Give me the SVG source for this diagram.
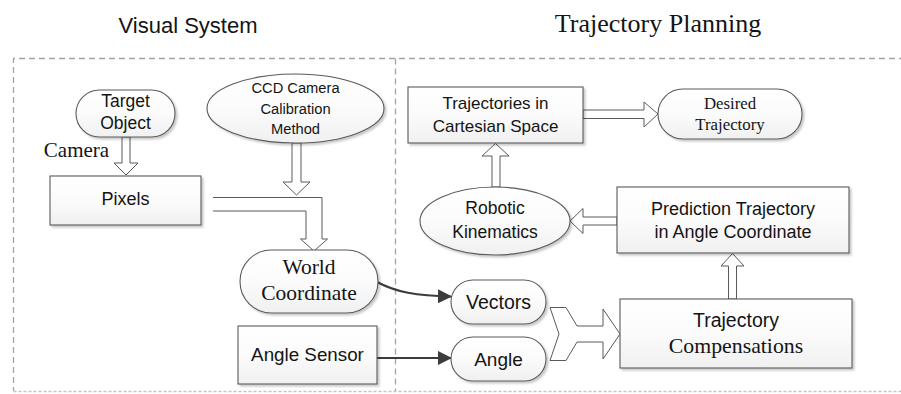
<svg xmlns="http://www.w3.org/2000/svg" width="901" height="394" viewBox="0 0 901 394">
  <defs>
    <linearGradient id="boxFill" x1="0" y1="0" x2="0" y2="1">
      <stop offset="0" stop-color="#ffffff"/>
      <stop offset="0.5" stop-color="#fbfbfb"/>
      <stop offset="1" stop-color="#f0f0f0"/>
    </linearGradient>
    <filter id="shadow" x="-10%" y="-10%" width="125%" height="130%">
      <feDropShadow dx="2" dy="2" stdDeviation="1.2" flood-color="#000" flood-opacity="0.22"/>
    </filter>
    <marker id="head" markerWidth="14" markerHeight="14" viewBox="0 0 14 14" refX="13" refY="7" orient="auto" markerUnits="userSpaceOnUse">
      <path d="M0,0 L14,7 L0,14 Z" fill="#3c3c3c"/>
    </marker>
  </defs>
  <style>
    .frame { fill: none; stroke: #a3a3a3; stroke-width: 1.3; stroke-dasharray: 6 4; }
    .frame-bottom { fill: none; stroke: #c4c4c4; stroke-width: 1.3; stroke-dasharray: 3 2; }
    .node { fill: url(#boxFill); stroke: #5a5a5a; stroke-width: 1.1; filter: url(#shadow); }
    .hollow { fill: #ffffff; stroke: #5a5a5a; stroke-width: 1; stroke-linejoin: miter; }
    .wire { fill: none; stroke: #3c3c3c; stroke-width: 2; marker-end: url(#head); }
    .sans { font-family: "Liberation Sans", Arial, sans-serif; fill: #141414; text-anchor: middle; }
    .serif { font-family: "Liberation Serif", "Times New Roman", serif; fill: #141414; text-anchor: middle; }
  </style>

  <rect width="901" height="394" fill="#ffffff"/>

  <!-- section titles -->
  <text class="sans" x="188" y="33" font-size="22">Visual System</text>
  <text class="serif" x="658" y="32" font-size="26">Trajectory Planning</text>

  <!-- dashed section frames -->
  <g id="frames">
    <path class="frame" d="M905,58.5 H13.5 V391"/>
    <path class="frame" d="M395.5,58.5 V391"/>
    <path class="frame-bottom" d="M13.5,391.5 H905"/>
  </g>

  <!-- connectors -->
  <g id="connectors">
    <polygon class="hollow" points="122,137 130,137 130,163 138,163 126,175 114,163 122,163"/>
    <polygon class="hollow" points="292,143 301,143 301,182 310,182 296.5,195 283,182 292,182"/>
    <path d="M213,197.5 H322 V239 H327.5 L314,251 L300.5,239 H306 V211 H213 Z" fill="#ffffff" stroke="none"/>
    <path class="hollow" fill="none" d="M213,197.5 H322 V239 H327.5 L314,251 L300.5,239 H306 V211 H213"/>
    <polygon class="hollow" points="492,187 500,187 500,156 509,156 495.5,143.5 482,156 492,156"/>
    <polygon class="hollow" points="583,110 644,110 644,102 658,114 644,127 644,118.5 583,118.5"/>
    <polygon class="hollow" points="617,217 583,217 583,208.5 570,221 583,233.5 583,225 617,225"/>
    <polygon class="hollow" points="728.5,299 736.5,299 736.5,266 744,266 732.5,253.5 721,266 728.5,266"/>
    <polygon class="hollow" points="550,307.5 566,307.5 577,326 603,326 603,309 620,334 603,359 603,342 577,342 566,360.5 550,360.5 559,334"/>
    <path class="wire" d="M377,282 C396,292 416,296 451,296.5"/>
    <path class="wire" d="M377,358 H451"/>
  </g>

  <!-- visual system nodes -->
  <g id="target-object">
    <rect class="node" x="76" y="90" width="99" height="47" rx="23.5"/>
    <text class="sans" x="125.5" y="107" font-size="17.5">Target</text>
    <text class="sans" x="125.5" y="129" font-size="17.5">Object</text>
  </g>
  <g id="camera-label">
    <text class="serif" x="76.5" y="157" font-size="21">Camera</text>
  </g>
  <g id="ccd-calibration">
    <ellipse class="node" cx="295.5" cy="108.5" rx="88.5" ry="34.5"/>
    <text class="sans" x="295.5" y="93" font-size="14.7">CCD Camera</text>
    <text class="sans" x="295.5" y="114" font-size="14.7">Calibration</text>
    <text class="sans" x="295.5" y="134" font-size="14.7">Method</text>
  </g>
  <g id="pixels">
    <rect class="node" x="50" y="176" width="151" height="49"/>
    <text class="sans" x="125.5" y="205" font-size="18">Pixels</text>
  </g>
  <g id="world-coordinate">
    <rect class="node" x="240" y="250" width="138" height="63" rx="31.5"/>
    <text class="serif" x="309" y="273.5" font-size="21.5">World</text>
    <text class="serif" x="309" y="300" font-size="21.5">Coordinate</text>
  </g>
  <g id="angle-sensor">
    <rect class="node" x="238" y="326" width="139" height="58"/>
    <text class="sans" x="307.5" y="361" font-size="18.8">Angle Sensor</text>
  </g>

  <!-- trajectory planning nodes -->
  <g id="cartesian-trajectories">
    <rect class="node" x="408" y="87" width="175" height="56"/>
    <text class="sans" x="495.5" y="108.5" font-size="17">Trajectories in</text>
    <text class="sans" x="495.5" y="131.5" font-size="17">Cartesian Space</text>
  </g>
  <g id="desired-trajectory">
    <rect class="node" x="658" y="89" width="144" height="50" rx="25"/>
    <text class="serif" x="730" y="108.5" font-size="16.8">Desired</text>
    <text class="serif" x="730" y="130" font-size="16.8">Trajectory</text>
  </g>
  <g id="robotic-kinematics">
    <ellipse class="node" cx="495" cy="221" rx="75" ry="34"/>
    <text class="sans" x="495" y="214" font-size="17.5">Robotic</text>
    <text class="sans" x="495" y="237.5" font-size="17.5">Kinematics</text>
  </g>
  <g id="prediction-trajectory">
    <rect class="node" x="617" y="187" width="232" height="66"/>
    <text class="sans" x="733" y="215" font-size="18">Prediction Trajectory</text>
    <text class="sans" x="733" y="237.5" font-size="18">in Angle Coordinate</text>
  </g>
  <g id="vectors">
    <rect class="node" x="451" y="280" width="95" height="44" rx="22"/>
    <text class="sans" x="498.5" y="309" font-size="19.5">Vectors</text>
  </g>
  <g id="angle">
    <rect class="node" x="451" y="337" width="95" height="44" rx="22"/>
    <text class="sans" x="498.5" y="365.5" font-size="19">Angle</text>
  </g>
  <g id="trajectory-compensations">
    <rect class="node" x="620" y="299" width="232" height="69"/>
    <text class="sans" x="736" y="327" font-size="19.5">Trajectory</text>
    <text class="serif" x="736" y="353" font-size="21.8">Compensations</text>
  </g>
</svg>
